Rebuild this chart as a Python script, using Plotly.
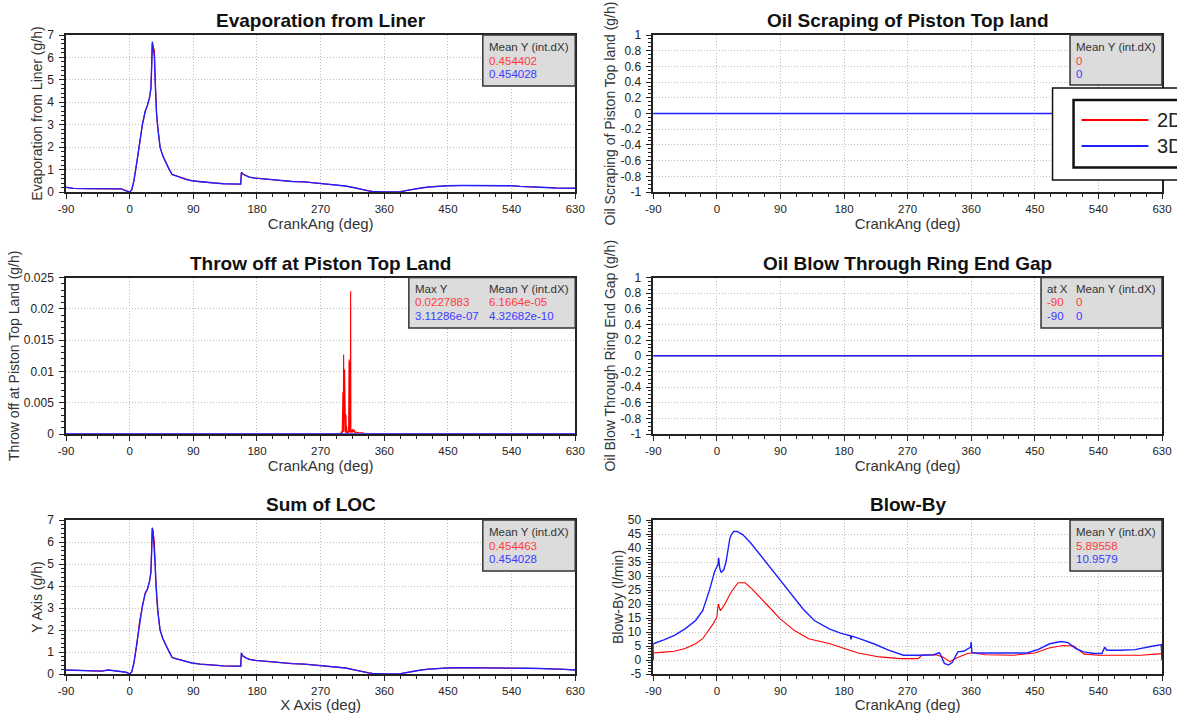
import plotly.graph_objects as go

# ---------------- DATA ----------------
x_ticks = [-90, 0, 90, 180, 270, 360, 450, 540, 630]
x_ticktext = ["-90", "0", "90", "180", "270", "360", "450", "540", "630"]

# Evaporation from Liner (g/h)
evap_ang = [-90, -80, -60, -40, -20, -12, -5, 0, 3, 6, 10, 14, 18, 22, 25, 28, 30, 31, 32, 33, 34, 35, 36, 37, 38, 40, 43, 47, 52, 56, 60, 65, 72, 80, 88, 100, 110, 120, 133, 145, 157, 158, 160, 165, 170, 178, 190, 200, 215, 230, 247, 260, 269, 280, 290, 292, 295, 305, 316, 325, 332, 338, 343, 350, 359, 370, 383, 392, 401, 412, 423, 435, 449, 470, 500, 540, 552, 561, 580, 603, 615, 630]
evap_3d = [0.21, 0.16, 0.15, 0.15, 0.15, 0.14, 0.05, 0.0, 0.1, 0.5, 1.3, 2.2, 3.0, 3.6, 3.85, 4.2, 4.6, 5.5, 6.7, 6.5, 6.3, 6.0, 5.0, 4.2, 3.5, 2.8, 2.0, 1.6, 1.25, 1.0, 0.78, 0.72, 0.65, 0.55, 0.5, 0.45, 0.42, 0.4, 0.37, 0.36, 0.35, 0.88, 0.8, 0.72, 0.66, 0.62, 0.58, 0.55, 0.5, 0.47, 0.45, 0.41, 0.38, 0.35, 0.31, 0.33, 0.3, 0.27, 0.2, 0.13, 0.08, 0.05, 0.03, 0.01, 0.0, 0.0, 0.01, 0.07, 0.13, 0.18, 0.22, 0.25, 0.28, 0.29, 0.29, 0.28, 0.25, 0.23, 0.21, 0.18, 0.18, 0.17]
evap_2d = [0.21, 0.16, 0.15, 0.15, 0.15, 0.14, 0.05, 0.0, 0.1, 0.5, 1.3, 2.2, 3.0, 3.6, 3.85, 4.2, 4.6, 5.5, 6.6, 6.5, 6.35, 6.3, 5.1, 4.2, 3.5, 2.8, 2.0, 1.6, 1.25, 1.0, 0.78, 0.73, 0.66, 0.55, 0.5, 0.45, 0.42, 0.4, 0.37, 0.36, 0.35, 0.88, 0.8, 0.72, 0.66, 0.62, 0.58, 0.55, 0.5, 0.47, 0.45, 0.41, 0.38, 0.35, 0.31, 0.33, 0.3, 0.27, 0.2, 0.13, 0.08, 0.05, 0.03, 0.01, 0.0, 0.0, 0.01, 0.07, 0.13, 0.18, 0.22, 0.25, 0.28, 0.29, 0.29, 0.28, 0.25, 0.23, 0.21, 0.18, 0.18, 0.17]

# Sum of LOC (g/h)
loc_ang = [-90, -75, -60, -40, -30, -22, -15, -5, 0, 3, 6, 10, 14, 18, 22, 25, 28, 30, 31, 32, 33, 34, 35, 36, 37, 38, 40, 43, 47, 52, 56, 60, 65, 72, 80, 88, 100, 110, 120, 133, 145, 157, 158, 160, 165, 170, 178, 190, 200, 215, 230, 247, 260, 269, 280, 295, 305, 316, 325, 332, 338, 343, 350, 359, 370, 383, 392, 401, 412, 423, 435, 449, 470, 500, 520, 540, 561, 580, 603, 615, 630]
loc_3d = [0.18, 0.16, 0.13, 0.13, 0.18, 0.15, 0.12, 0.08, 0.0, 0.1, 0.5, 1.3, 2.3, 3.1, 3.65, 3.85, 4.2, 4.6, 5.5, 6.65, 6.5, 6.1, 5.8, 5.0, 4.2, 3.5, 2.8, 2.0, 1.6, 1.25, 1.0, 0.75, 0.7, 0.63, 0.55, 0.5, 0.45, 0.42, 0.4, 0.37, 0.36, 0.35, 0.95, 0.82, 0.72, 0.66, 0.62, 0.58, 0.55, 0.5, 0.47, 0.45, 0.41, 0.37, 0.34, 0.3, 0.27, 0.2, 0.13, 0.08, 0.05, 0.03, 0.01, 0.0, 0.0, 0.01, 0.07, 0.13, 0.18, 0.22, 0.25, 0.27, 0.29, 0.29, 0.29, 0.27, 0.26, 0.25, 0.24, 0.21, 0.18]
loc_2d = [0.18, 0.16, 0.13, 0.13, 0.18, 0.15, 0.12, 0.08, 0.0, 0.1, 0.5, 1.3, 2.4, 3.1, 3.7, 3.85, 4.2, 4.6, 5.5, 6.6, 6.5, 6.2, 6.0, 5.1, 4.2, 3.5, 2.8, 2.0, 1.6, 1.25, 1.0, 0.75, 0.7, 0.63, 0.55, 0.5, 0.45, 0.42, 0.4, 0.37, 0.36, 0.35, 0.95, 0.82, 0.72, 0.66, 0.62, 0.58, 0.55, 0.5, 0.47, 0.45, 0.41, 0.37, 0.34, 0.3, 0.28, 0.2, 0.13, 0.08, 0.05, 0.03, 0.01, 0.0, 0.0, 0.01, 0.07, 0.13, 0.18, 0.22, 0.25, 0.27, 0.29, 0.29, 0.29, 0.27, 0.26, 0.25, 0.24, 0.21, 0.18]

# Throw off at Piston Top Land (g/h)
throw_ang_2d = [-90, 298, 299.5, 300.5, 301.5, 302, 302.5, 303.2, 303.8, 304.3, 304.8, 305.3, 305.8, 306.3, 306.8, 307.5, 308.5, 309.5, 310.2, 310.8, 311.4, 312, 312.4, 312.8, 313.5, 314.5, 315.5, 316.5, 317.5, 318.5, 320, 322, 324, 327, 330, 331, 630]
throw_2d = [0, 0, 0.0004, 0.0001, 0.0067, 0.0003, 0.0127, 0.0004, 0.0103, 0.0003, 0.0054, 0.0002, 0.0031, 0.0002, 0.0012, 0.0001, 0.0004, 0.0002, 0.0119, 0.0003, 0.0116, 0.0002, 0.0228, 0.0003, 0.0006, 0.0002, 0.0008, 0.0003, 0.0007, 0.0002, 0.0003, 0.0002, 0.0002, 0.0002, 0.0002, 0, 0]
throw_ang_3d = [-90, 630]
throw_3d = [0, 0]

# Oil scraping / oil blow-through (g/h)
flat_ang = [-90, 630]
scrape_2d = [0, 0]
scrape_3d = [0, 0]
blowthru_2d = [0, 0]
blowthru_3d = [0, 0]

# Blow-By (l/min)
bb_ang_3d = [-90, -90, -75, -60, -45, -30, -20, -15, -10, -3, 1.5, 2.6, 4, 6, 10, 13, 16, 18.5, 21, 24, 29, 37, 48, 63, 79, 90, 106, 122, 138, 159, 175, 185, 189, 190, 191, 200, 222, 243, 264, 286, 300, 307, 315, 317, 322, 328, 333, 341, 349, 357, 359, 360, 361, 376, 402, 439, 455, 471, 487, 497, 508, 519, 534, 545, 549, 552, 571, 592, 614, 629, 630]
bb_3d = [0, 5.8, 7.2, 8.8, 11.1, 14.1, 17.6, 21.5, 25.3, 31.7, 34, 36.5, 33, 31.2, 32.3, 35, 39.4, 43.5, 45, 45.9, 45.9, 44.7, 41.8, 37, 31.7, 28.2, 22.9, 18.2, 14.1, 11.1, 9.6, 8.8, 8.6, 7.4, 8.5, 7.8, 5.8, 3.5, 1.7, 1.7, 1.8, 1.9, 2.6, 1.7, -1.2, -1.8, -0.9, 2.9, 3.1, 4.1, 4.5, 6.4, 2.6, 2.5, 2.5, 2.5, 3.8, 5.8, 6.6, 6.2, 4.1, 2.9, 2.3, 2.3, 4.6, 3.5, 3.5, 3.7, 4.8, 5.5, 0]
bb_ang_2d = [-90, -90, -75, -60, -45, -30, -20, -10, -5, 0, 2, 5, 10, 20, 30, 40, 50, 70, 90, 110, 130, 160, 180, 200, 230, 260, 285, 290, 310, 320, 330, 340, 355, 362, 380, 420, 450, 470, 490, 505, 520, 540, 560, 600, 625, 630, 630]
bb_2d = [0, 2.5, 2.8, 3.1, 4.1, 5.8, 7.6, 11.1, 13.0, 15.3, 20.0, 17.6, 19.4, 24.1, 27.6, 27.6, 25.3, 20.0, 14.6, 10.5, 7.6, 5.8, 4.1, 2.5, 1.1, 0.5, 0.5, 1.7, 1.9, 1.1, -0.6, 0.8, 2.3, 2.6, 1.9, 1.7, 2.5, 4.3, 5.2, 5.0, 2.1, 1.7, 1.7, 1.7, 2.2, 2.3, 0]

titles = ["Evaporation from Liner", "Oil Scraping of Piston Top land",
          "Throw off at Piston Top Land", "Oil Blow Through Ring End Gap",
          "Sum of LOC", "Blow-By"]

# ---------------- LAYOUT HELPERS ----------------
W, H = 1177, 713
ML, MR, MT, MB = 66, 14.5, 35, 37
PW = W - ML - MR
PH = H - MT - MB


def px(x):
    return (x - ML) / PW


def py(y):
    return (H - MB - y) / PH


RED = "#ff0000"
BLUE = "#1f1fff"
FONT = "Liberation Sans"
AX = "#222222"
GRID = "#bdbdbd"

fig = go.Figure()

panels = [
    (1, evap_ang, evap_2d, evap_ang, evap_3d),
    (2, flat_ang, scrape_2d, flat_ang, scrape_3d),
    (3, throw_ang_2d, throw_2d, throw_ang_3d, throw_3d),
    (4, flat_ang, blowthru_2d, flat_ang, blowthru_3d),
    (5, loc_ang, loc_2d, loc_ang, loc_3d),
    (6, bb_ang_2d, bb_2d, bb_ang_3d, bb_3d),
]
for i, xa, ya, xb, yb in panels:
    xr = "x" if i == 1 else f"x{i}"
    yr = "y" if i == 1 else f"y{i}"
    fig.add_trace(go.Scatter(x=xa, y=ya, mode="lines", name="2D", line=dict(color=RED, width=1.1),
                             xaxis=xr, yaxis=yr, showlegend=False))
    fig.add_trace(go.Scatter(x=xb, y=yb, mode="lines", name="3D", line=dict(color=BLUE, width=1.4),
                             xaxis=xr, yaxis=yr, showlegend=False))

col_dom = {0: [0, px(575.5)], 1: [px(653.5), 1]}
row_dom = {0: [py(192), 1], 1: [py(434), py(277.5)], 2: [py(674), py(520)]}

y_specs = {
    1: dict(range=[0, 7], vals=[0, 1, 2, 3, 4, 5, 6, 7], minor=0.2, title="Evaporation from Liner (g/h)"),
    2: dict(range=[-1, 1], vals=[-1, -0.8, -0.6, -0.4, -0.2, 0, 0.2, 0.4, 0.6, 0.8, 1], minor=0.05,
            title="Oil Scraping of Piston Top land (g/h)"),
    3: dict(range=[0, 0.025], vals=[0, 0.005, 0.01, 0.015, 0.02, 0.025], minor=0.001,
            title="Throw off at Piston Top Land (g/h)"),
    4: dict(range=[-1, 1], vals=[-1, -0.8, -0.6, -0.4, -0.2, 0, 0.2, 0.4, 0.6, 0.8, 1], minor=0.05,
            title="Oil Blow Through Ring End Gap (g/h)"),
    5: dict(range=[0, 7], vals=[0, 1, 2, 3, 4, 5, 6, 7], minor=0.2, title="Y Axis (g/h)"),
    6: dict(range=[-5, 50], vals=[-5, 0, 5, 10, 15, 20, 25, 30, 35, 40, 45, 50], minor=1,
            title="Blow-By (l/min)"),
}


def fmt(v):
    return f"{v:g}"


for i in range(1, 7):
    col = (i - 1) % 2
    row = (i - 1) // 2
    sfx = "" if i == 1 else str(i)
    spec = y_specs[i]
    common = dict(showline=True, mirror=True, linecolor=AX, linewidth=1.5,
                  showgrid=True, gridcolor=GRID, griddash="1px,2px", gridwidth=1,
                  zeroline=False, ticks="outside", ticklen=5, tickcolor=AX, tickwidth=1,
                  fixedrange=True)
    xtitle = "X Axis (deg)" if i == 5 else "CrankAng (deg)"
    fig.layout[f"xaxis{sfx}"] = dict(
        domain=col_dom[col], anchor=f"y{sfx}", range=[-90, 630],
        tickmode="array", tickvals=x_ticks, ticktext=x_ticktext,
        tickfont=dict(family=FONT, size=11.5, color=AX),
        minor=dict(dtick=22.5, tick0=-90, ticks="outside", ticklen=3, tickcolor=AX, showgrid=False),
        title=dict(text=xtitle, font=dict(family=FONT, size=15, color="#333333"), standoff=3),
        **common)
    fig.layout[f"yaxis{sfx}"] = dict(
        domain=row_dom[row], anchor=f"x{sfx}", range=spec["range"],
        tickmode="array", tickvals=spec["vals"], ticktext=[fmt(v) for v in spec["vals"]],
        tickfont=dict(family=FONT, size=12, color=AX),
        minor=dict(dtick=spec["minor"], tick0=spec["range"][0], ticks="outside", ticklen=3,
                   tickcolor=AX, showgrid=False),
        ticklabelstandoff=3,
        title=dict(text=spec["title"], font=dict(family=FONT, size=14, color="#333333"), standoff=1),
        **common)

annotations = []
shapes = []

# subplot titles
title_pos = [((66 + 575.5) / 2, 20), ((653.5 + 1162.5) / 2, 20),
             ((66 + 575.5) / 2, 263), ((653.5 + 1162.5) / 2, 263),
             ((66 + 575.5) / 2, 505), ((653.5 + 1162.5) / 2, 505)]
for t, (tx, ty) in zip(titles, title_pos):
    annotations.append(dict(text=t, x=px(tx), y=py(ty), xref="paper", yref="paper",
                            xanchor="center", yanchor="middle", showarrow=False,
                            font=dict(family=FONT, size=19, color="#111111", weight="bold")))


def stat_box(x0, y0, x1, y1, cols, rows_y):
    shapes.append(dict(type="rect", xref="paper", yref="paper", x0=px(x0), x1=px(x1),
                       y0=py(y0), y1=py(y1), fillcolor="#dcdcdc",
                       line=dict(color="#333333", width=1.5), layer="above"))
    for cx, texts in cols:
        for (txt, colr), ry in zip(texts, rows_y):
            annotations.append(dict(text=txt, x=px(cx), y=py(ry), xref="paper", yref="paper",
                                    xanchor="left", yanchor="middle", showarrow=False,
                                    font=dict(family=FONT, size=11.5, color=colr)))


HDR = "#333333"
SR = "#ff3b3b"
SB = "#3b3bff"
stat_box(483, 35, 575.5, 86, [(487, [("Mean Y (int.dX)", HDR), ("0.454402", SR), ("0.454028", SB)])],
         [47, 61, 74.5])
stat_box(1070.5, 35, 1162.5, 85, [(1074.5, [("Mean Y (int.dX)", HDR), ("0", SR), ("0", SB)])],
         [47, 61, 74.5])
stat_box(409, 277.5, 575.5, 328, [(413, [("Max Y", HDR), ("0.0227883", SR), ("3.11286e-07", SB)]),
                                  (487, [("Mean Y (int.dX)", HDR), ("6.1664e-05", SR), ("4.32682e-10", SB)])],
         [289, 302.5, 316])
stat_box(1041.5, 277.5, 1162.5, 328, [(1045.5, [("at X", HDR), ("-90", SR), ("-90", SB)]),
                                      (1074.5, [("Mean Y (int.dX)", HDR), ("0", SR), ("0", SB)])],
         [289, 302.5, 316])
stat_box(483, 520, 575.5, 571, [(487, [("Mean Y (int.dX)", HDR), ("0.454463", SR), ("0.454028", SB)])],
         [532, 545.5, 559])
stat_box(1070.5, 520, 1162.5, 571, [(1074.5, [("Mean Y (int.dX)", HDR), ("5.89558", SR), ("10.9579", SB)])],
         [532, 545.5, 559])

# legend (2D / 3D) drawn as a boxed key, partly cut off by the right edge as in the source
shapes.append(dict(type="rect", xref="paper", yref="paper", x0=px(1053), x1=px(1200),
                   y0=py(88), y1=py(180), fillcolor="white", line=dict(color="#111111", width=1.5),
                   layer="above"))
shapes.append(dict(type="rect", xref="paper", yref="paper", x0=px(1074), x1=px(1200),
                   y0=py(100), y1=py(167.5), fillcolor="white", line=dict(color="#111111", width=2.5),
                   layer="above"))
for name, colr, ly in [("2D", RED, 120), ("3D", BLUE, 146)]:
    shapes.append(dict(type="line", xref="paper", yref="paper", x0=px(1082), x1=px(1149),
                       y0=py(ly), y1=py(ly), line=dict(color=colr, width=2), layer="above"))
    annotations.append(dict(text=name, x=px(1155), y=py(ly), xref="paper", yref="paper",
                            xanchor="left", yanchor="middle", showarrow=False,
                            font=dict(family=FONT, size=20, color="#222222")))

fig.update_layout(
    width=W, height=H,
    margin=dict(l=ML, r=MR, t=MT, b=MB, autoexpand=False),
    paper_bgcolor="white", plot_bgcolor="white",
    showlegend=False,
    annotations=annotations, shapes=shapes,
    font=dict(family=FONT),
)

fig.write_html("out.html", config={"displayModeBar": False},
               post_script="document.body.style.margin='0';document.body.style.overflow='hidden';")
